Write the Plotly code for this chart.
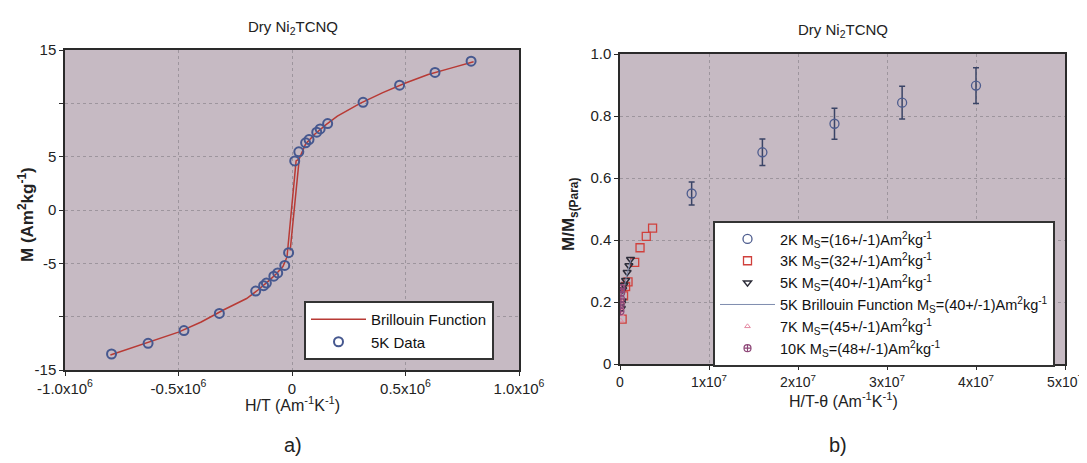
import plotly.graph_objects as go

# ---------------- data: panel a ----------------
ht_5k = [-0.795e6, -0.634e6, -0.476e6, -0.32e6, -0.16e6, -0.125e6, -0.113e6, -0.08e6,
         -0.063e6, -0.032e6, -0.015e6, 0.012e6, 0.03e6, 0.06e6, 0.075e6, 0.109e6,
         0.124e6, 0.157e6, 0.313e6, 0.474e6, 0.63e6, 0.789e6]
m_5k = [-13.5, -12.5, -11.3, -9.7, -7.6, -7.1, -6.85, -6.2, -5.9, -5.2, -4.0,
        4.6, 5.45, 6.3, 6.6, 7.3, 7.6, 8.1, 10.1, 11.7, 12.9, 13.95]

bf_x = [-0.80e6, -0.70e6, -0.60e6, -0.50e6, -0.40e6, -0.30e6, -0.20e6, -0.15e6, -0.10e6,
        -0.07e6, -0.04e6, -0.022e6, 0.018e6, 0.032e6, -0.008e6, 0.032e6, 0.06e6, 0.10e6,
        0.15e6, 0.20e6, 0.30e6, 0.40e6, 0.50e6, 0.60e6, 0.70e6, 0.80e6]
bf_y = [-13.6, -12.9, -12.2, -11.45, -10.5, -9.35, -8.3, -7.5, -6.6, -6.0, -5.3, -4.4,
        4.6, 4.8, -3.8, 4.8, 6.2, 7.1, 8.0, 8.8, 10.0, 11.0, 11.9, 12.7, 13.3, 13.9]

a_xticks = [-1.0e6, -0.5e6, 0, 0.5e6, 1.0e6]
a_xlabels = ["-1.0x10<sup>6</sup>", "-0.5x10<sup>6</sup>", "0", "0.5x10<sup>6</sup>", "1.0x10<sup>6</sup>"]
a_yticks = [-15, -10, -5, 0, 5, 10, 15]
a_ylabels = ["-15", "", "-5", "0", "5", "", "15"]

# ---------------- data: panel b ----------------
x_2k = [0.805e7, 1.6e7, 2.41e7, 3.17e7, 4.0e7]
y_2k = [0.55, 0.683, 0.775, 0.843, 0.898]
e_2k = [0.037, 0.043, 0.05, 0.053, 0.058]

x_3k = [0.024e7, 0.04e7, 0.063e7, 0.09e7, 0.165e7, 0.225e7, 0.295e7, 0.366e7]
y_3k = [0.145, 0.22, 0.25, 0.265, 0.328, 0.375, 0.412, 0.438]

x_5k = [0.015e7, 0.018e7, 0.024e7, 0.03e7, 0.045e7, 0.063e7, 0.08e7, 0.10e7, 0.118e7]
y_5k = [0.18, 0.195, 0.205, 0.24, 0.255, 0.27, 0.296, 0.318, 0.338]

x_bf5 = [0.015e7, 0.04e7, 0.07e7, 0.10e7, 0.125e7]
y_bf5 = [0.18, 0.235, 0.28, 0.315, 0.34]

x_7k = [0.008e7, 0.012e7, 0.016e7, 0.02e7, 0.025e7]
y_7k = [0.14, 0.16, 0.18, 0.2, 0.215]

x_10k = [0.005e7, 0.008e7, 0.01e7, 0.013e7, 0.016e7]
y_10k = [0.17, 0.19, 0.21, 0.23, 0.245]

b_xticks = [0, 1e7, 2e7, 3e7, 4e7, 5e7]
b_xlabels = ["0", "1x10<sup>7</sup>", "2x10<sup>7</sup>", "3x10<sup>7</sup>", "4x10<sup>7</sup>", "5x10<sup>7</sup>"]
b_yticks = [0, 0.2, 0.4, 0.6, 0.8, 1.0]
b_ylabels = ["0", "0.2", "0.4", "0.6", "0.8", "1.0"]

# page body has an 8px margin: figure occupies the window minus that offset
OFF = 8
W, H = 1087 - OFF, 463 - OFF
FONT = "Liberation Sans, Arial, sans-serif"
BG = "#c6bac3"
GRID = "#9d959d"


def px(x):
    return (x - OFF) / W


def py(y):
    return 1 - (y - OFF) / H


fig = go.Figure()

# panel a traces
fig.add_trace(go.Scatter(x=bf_x, y=bf_y, mode="lines", name="Brillouin Function",
                         line=dict(color="#b83a35", width=1.5), xaxis="x", yaxis="y",
                         legend="legend"))
fig.add_trace(go.Scatter(x=ht_5k, y=m_5k, mode="markers", name="5K Data",
                         marker=dict(symbol="circle-open", size=9, color="#46588f",
                                     line=dict(width=2)),
                         xaxis="x", yaxis="y", legend="legend"))

# panel b traces
fig.add_trace(go.Scatter(x=x_2k, y=y_2k, mode="markers",
                         name="2K M<sub>S</sub>=(16+/-1)Am<sup>2</sup>kg<sup>-1</sup>",
                         marker=dict(symbol="circle-open", size=9, color="#4d5c8e", line=dict(width=1.3)),
                         error_y=dict(type="data", array=e_2k, color="#3a4466", thickness=1.5, width=3),
                         xaxis="x2", yaxis="y2", legend="legend2"))
fig.add_trace(go.Scatter(x=x_3k, y=y_3k, mode="markers",
                         name="3K M<sub>S</sub>=(32+/-1)Am<sup>2</sup>kg<sup>-1</sup>",
                         marker=dict(symbol="square-open", size=8, color="#d0403c", line=dict(width=1.3)),
                         xaxis="x2", yaxis="y2", legend="legend2"))
fig.add_trace(go.Scatter(x=x_5k, y=y_5k, mode="markers",
                         name="5K M<sub>S</sub>=(40+/-1)Am<sup>2</sup>kg<sup>-1</sup>",
                         marker=dict(symbol="triangle-down-open", size=7, color="#2c2c38", line=dict(width=1.5)),
                         xaxis="x2", yaxis="y2", legend="legend2"))
fig.add_trace(go.Scatter(x=x_bf5, y=y_bf5, mode="lines",
                         name="5K Brillouin Function M<sub>S</sub>=(40+/-1)Am<sup>2</sup>kg<sup>-1</sup>",
                         line=dict(color="#7f8cae", width=1),
                         xaxis="x2", yaxis="y2", legend="legend2"))
fig.add_trace(go.Scatter(x=x_7k, y=y_7k, mode="markers",
                         name="7K M<sub>S</sub>=(45+/-1)Am<sup>2</sup>kg<sup>-1</sup>",
                         marker=dict(symbol="triangle-up-open", size=5, color="#e58aa3", line=dict(width=1)),
                         xaxis="x2", yaxis="y2", legend="legend2"))
fig.add_trace(go.Scatter(x=x_10k, y=y_10k, mode="markers",
                         name="10K M<sub>S</sub>=(48+/-1)Am<sup>2</sup>kg<sup>-1</sup>",
                         marker=dict(symbol="circle-cross-open", size=7, color="#8e4878", line=dict(width=1.2)),
                         xaxis="x2", yaxis="y2", legend="legend2"))

ax_common = dict(showline=True, linecolor="#2a2a2a", linewidth=1.5, mirror=True,
                 ticks="outside", ticklen=4, tickcolor="#2a2a2a", showgrid=True,
                 gridcolor=GRID, griddash="dot", gridwidth=1, zeroline=False,
                 automargin=False)
tick15 = dict(family=FONT, size=15, color="#222")
tick14 = dict(family=FONT, size=14, color="#222")

fig.update_layout(
    width=W, height=H, autosize=False,
    margin=dict(l=0, r=0, t=0, b=0, autoexpand=False),
    paper_bgcolor="white", plot_bgcolor=BG,
    font=dict(family=FONT, color="#222"),
    xaxis=dict(domain=[px(65), px(519)], range=[-1.0e6, 1.0e6], tickmode="array",
               tickvals=a_xticks, ticktext=a_xlabels, anchor="y", tickfont=tick15, **ax_common),
    yaxis=dict(domain=[py(370), py(50)], range=[-15, 15], tickmode="array",
               tickvals=a_yticks, ticktext=a_ylabels, anchor="x", tickfont=tick15, **ax_common),
    xaxis2=dict(domain=[px(620), px(1065)], range=[0, 5e7], tickmode="array",
                tickvals=b_xticks, ticktext=b_xlabels, anchor="y2", tickfont=tick14, **ax_common),
    yaxis2=dict(domain=[py(364), py(54)], range=[0, 1.0], tickmode="array",
                tickvals=b_yticks, ticktext=b_ylabels, anchor="x2", tickfont=tick15, **ax_common),
    legend=dict(x=px(304), y=py(301), xanchor="left", yanchor="top",
                bgcolor="white", bordercolor="#333", borderwidth=2,
                font=dict(family=FONT, size=15, color="#111"), itemwidth=55,
                tracegroupgap=0),
    legend2=dict(x=px(713), y=py(221), xanchor="left", yanchor="top",
                 bgcolor="white", bordercolor="#333", borderwidth=2,
                 font=dict(family=FONT, size=14.5, color="#111"), itemwidth=55,
                 tracegroupgap=0),
)

ann = [
    dict(text="Dry Ni<sub>2</sub>TCNQ", x=px(293), y=py(28), size=15, angle=0),
    dict(text="Dry Ni<sub>2</sub>TCNQ", x=px(843), y=py(30), size=15, angle=0),
    dict(text="H/T (Am<sup>-1</sup>K<sup>-1</sup>)", x=px(292), y=py(404), size=16, angle=0),
    dict(text="H/T-θ (Am<sup>-1</sup>K<sup>-1</sup>)", x=px(843), y=py(400), size=16, angle=0),
    dict(text="<b>M (Am<sup>2</sup>kg<sup>-1</sup>)</b>", x=px(26), y=py(215), size=17, angle=-90),
    dict(text="<b>M/M<sub>s(Para)</sub></b>", x=px(570), y=py(215), size=17, angle=-90),
    dict(text="a)", x=px(293), y=py(445), size=20, angle=0),
    dict(text="b)", x=px(838), y=py(445), size=20, angle=0),
]
for a in ann:
    fig.add_annotation(text=a["text"], x=a["x"], y=a["y"], xref="paper", yref="paper",
                       xanchor="center", yanchor="middle", showarrow=False, textangle=a["angle"],
                       font=dict(family=FONT, size=a["size"], color="#222"))

fig.write_html("out.html")
